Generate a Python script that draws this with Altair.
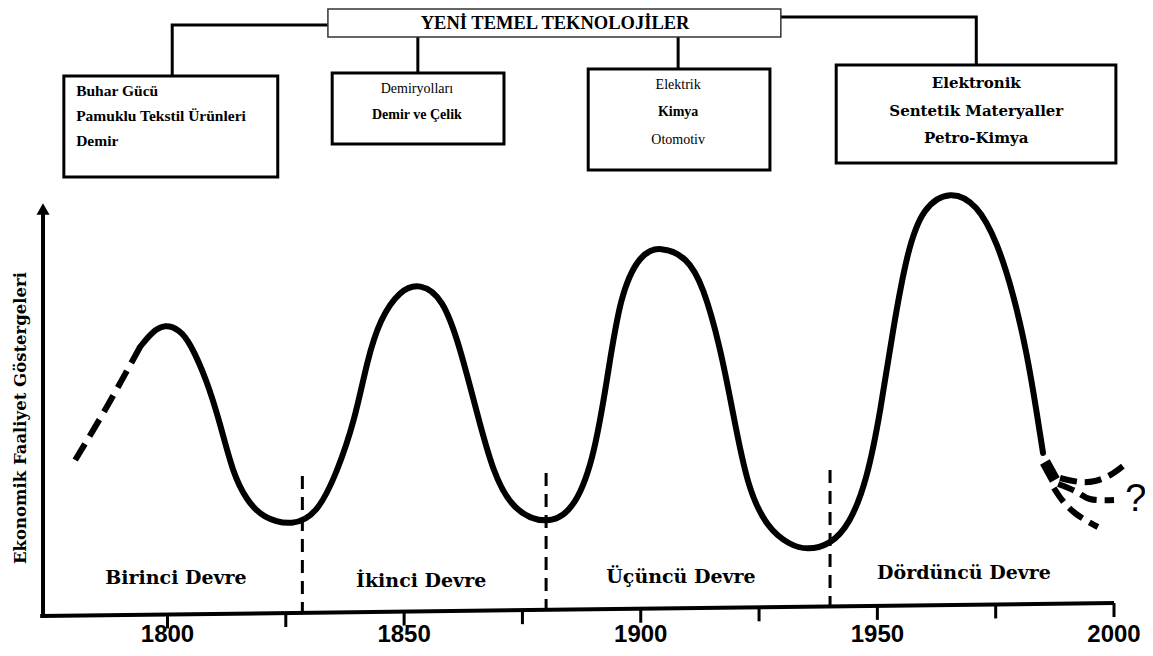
import altair as alt
import pandas as pd

# ---------------- data (years / activity index) ----------------
curve_year = [1794.2, 1796.7, 1799.5, 1802.6, 1804.8, 1808.3, 1811.1, 1813.8, 1816.7, 1820.1,
              1826.5, 1831.6, 1835.8, 1839.6, 1842.2, 1844.9, 1849.1, 1853.4,
              1858.2, 1861.8, 1865.4, 1868.8, 1873.0, 1880.2, 1885.7, 1889.9, 1892.9,
              1895.6, 1899.8, 1904.1, 1909.8, 1913.2, 1916.8, 1919.5, 1922.5, 1926.7, 1931.5,
              1935.1, 1940.0, 1944.2, 1947.8, 1950.6, 1953.3, 1956.3, 1959.6, 1965.4, 1971.1,
              1975.3, 1978.7, 1981.6, 1983.7, 1985.0]
curve_level = [268, 283, 291, 285, 272, 235, 192, 142, 115, 97,
               89, 101, 142, 195, 255, 296, 325, 332,
               317, 268, 202, 142, 104, 90, 104, 152, 235,
               320, 361, 369, 358, 329, 268, 202, 128, 87, 70,
               65, 70, 91, 135, 202, 286, 364, 408, 425, 411,
               373, 322, 262, 202, 162]

lead_year = [1780.5, 1786.8, 1794.2]
lead_level = [155, 205, 268]

wedge_year = [1985.4, 1987.5]
wedge_level = [153, 135]

branch_id = ["up"] * 5 + ["mid"] * 4 + ["low"] * 4
branch_year = [1988.6, 1992.8, 1996.0, 1999.2, 2001.9,
               1988.2, 1991.8, 1994.9, 2000.0,
               1987.3, 1989.2, 1992.0, 1996.6]
branch_level = [137, 133, 134, 140, 149,
                131, 124, 116, 115,
                127, 114, 101, 88]

period_year = [1828.5, 1880.0, 1940.0]
period_top = [139, 142, 145]
period_bottom = [2, 5, 9]

period_label = ["Birinci Devre", "İkinci Devre", "Üçüncü Devre", "Dördüncü Devre"]
period_label_year = [1801.8, 1853.6, 1908.5, 1968.3]
period_label_level = [37, 34, 38, 42]

tick_years = [1800, 1825, 1850, 1875, 1900, 1925, 1950, 1975, 2000]
label_years = [1800, 1850, 1900, 1950, 2000]

axis_x_start, axis_x_end = 1773.1, 2000.0
axis_lvl_start, axis_lvl_end = -1, 12
yaxis_year = 1773.7
yaxis_top = 404

title_text = "YENİ TEMEL TEKNOLOJİLER"
title_year, title_level = 1881.9, 592
main_box = dict(year=1833.9, year2=1929.6, level=606, level2=578)

box_year = [1778.1, 1834.8, 1888.9, 1941.3]
box_year2 = [1823.3, 1871.1, 1927.3, 2000.4]
box_level = [539, 542, 546, 550]
box_level2 = [438, 471, 445, 452]

conn_id = ["c1", "c1", "c1", "c2", "c2", "c3", "c3", "c4", "c4", "c4"]
conn_seq = [0, 1, 2, 0, 1, 0, 1, 0, 1, 2]
conn_year = [1833.9, 1801.0, 1801.0, 1852.9, 1852.9, 1907.9, 1907.9, 1929.6, 1970.9, 1970.9]
conn_level = [590, 590, 539, 578, 542, 578, 546, 598, 598, 550]

b1_text = ["Buhar Gücü", "Pamuklu Tekstil Ürünleri", "Demir"]
b1_year = [1780.7, 1780.7, 1780.7]
b1_level = [524, 499, 474]

b2_text = ["Demiryolları", "Demir ve Çelik"]
b2_bold = [False, True]
b2_year = [1852.7, 1852.7]
b2_level = [526, 500]

b3_text = ["Elektrik", "Kimya", "Otomotiv"]
b3_bold = [False, True, False]
b3_year = [1907.9, 1907.9, 1907.9]
b3_level = [530, 503, 475]

b4_text = ["Elektronik", "Sentetik Materyaller", "Petro-Kimya"]
b4_year = [1970.9, 1970.9, 1970.9]
b4_level = [532, 504, 477]

ytitle_text = "Ekonomik Faaliyet Göstergeleri"
ytitle_year, ytitle_level = 1769.0, 197

q_year, q_level = 2004.6, 115

# ---------------- tables ----------------
curve = pd.DataFrame({"year": curve_year, "level": curve_level})
lead = pd.DataFrame({"year": lead_year, "level": lead_level})
wedge = pd.DataFrame({"year": wedge_year, "level": wedge_level})
branches = pd.DataFrame({"b": branch_id, "year": branch_year, "level": branch_level})
periods = pd.DataFrame({"year": period_year, "level": period_top, "level2": period_bottom})
plabels = pd.DataFrame({"t": period_label, "year": period_label_year, "level": period_label_level})

def axis_level(y):
    return axis_lvl_start + (y - axis_x_start) / (axis_x_end - axis_x_start) * (axis_lvl_end - axis_lvl_start)

ticks = pd.DataFrame({"year": tick_years,
                      "level": [axis_level(t) for t in tick_years],
                      "level2": [axis_level(t) - 14 for t in tick_years]})
tlabels = pd.DataFrame({"year": label_years, "t": [str(v) for v in label_years], "level": [-27] * len(label_years)})
xaxis = pd.DataFrame({"year": [axis_x_start], "year2": [axis_x_end],
                      "level": [axis_lvl_start], "level2": [axis_lvl_end]})
yaxis = pd.DataFrame({"year": [yaxis_year], "level": [axis_lvl_start], "level2": [yaxis_top]})
arrow = pd.DataFrame({"year": [yaxis_year], "level": [yaxis_top + 2]})

mainbox = pd.DataFrame([main_box])
boxes = pd.DataFrame({"year": box_year, "year2": box_year2, "level": box_level, "level2": box_level2})
conns = pd.DataFrame({"c": conn_id, "seq": conn_seq, "year": conn_year, "level": conn_level})
title = pd.DataFrame({"t": [title_text], "year": [title_year], "level": [title_level]})
b1 = pd.DataFrame({"t": b1_text, "year": b1_year, "level": b1_level})
b2 = pd.DataFrame({"t": b2_text, "bold": b2_bold, "year": b2_year, "level": b2_level})
b3 = pd.DataFrame({"t": b3_text, "bold": b3_bold, "year": b3_year, "level": b3_level})
b4 = pd.DataFrame({"t": b4_text, "year": b4_year, "level": b4_level})
ytitle = pd.DataFrame({"t": [ytitle_text], "year": [ytitle_year], "level": [ytitle_level]})
qmark = pd.DataFrame({"t": ["?"], "year": [q_year], "level": [q_level]})

# ---------------- scales ----------------
xs = alt.Scale(domain=[1766.3, 2006.55], nice=False, zero=False)
ys = alt.Scale(domain=[-33, 607], nice=False, zero=False)
X = alt.X("year:Q", scale=xs, axis=None)
Y = alt.Y("level:Q", scale=ys, axis=None)
X2 = alt.X2("year2:Q")
Y2 = alt.Y2("level2:Q")

layers = []

# axes
layers.append(alt.Chart(xaxis).mark_rule(color="black", strokeWidth=4).encode(x=X, x2=X2, y=Y, y2=Y2))
layers.append(alt.Chart(yaxis).mark_rule(color="black", strokeWidth=4).encode(x=X, y=Y, y2=Y2))
layers.append(alt.Chart(arrow).mark_point(shape="triangle-up", filled=True, size=170,
                                           color="black", opacity=1).encode(x=X, y=Y))
layers.append(alt.Chart(ticks).mark_rule(color="black", strokeWidth=3).encode(x=X, y=Y, y2=Y2))
layers.append(alt.Chart(tlabels).mark_text(font="Liberation Sans", fontWeight="bold", fontSize=24,
                                            baseline="alphabetic", align="center", color="black")
              .encode(x=X, y=Y, text="t:N"))

# period dividers and labels
layers.append(alt.Chart(periods).mark_rule(color="black", strokeWidth=3, strokeDash=[13, 8])
              .encode(x=X, y=Y, y2=Y2))
layers.append(alt.Chart(plabels).mark_text(font="DejaVu Serif", fontWeight="bold", fontSize=19,
                                            baseline="middle", align="center", color="black")
              .encode(x=X, y=Y, text="t:N"))

# the long wave curve
layers.append(alt.Chart(lead).mark_line(color="black", strokeWidth=6, strokeDash=[19, 9],
                                         interpolate="catmull-rom").encode(x=X, y=Y))
layers.append(alt.Chart(curve).mark_line(color="black", strokeWidth=6, strokeCap="round",
                                          interpolate="basis").encode(x=X, y=Y))
layers.append(alt.Chart(wedge).mark_line(color="black", strokeWidth=11).encode(x=X, y=Y))
layers.append(alt.Chart(branches).mark_line(color="black", strokeWidth=6, strokeDash=[17, 8],
                                             interpolate="catmull-rom")
              .encode(x=X, y=Y, detail="b:N"))
layers.append(alt.Chart(qmark).mark_text(font="Liberation Sans", fontSize=38, baseline="middle",
                                          align="center", color="black").encode(x=X, y=Y, text="t:N"))

# y title
layers.append(alt.Chart(ytitle).mark_text(font="DejaVu Serif", fontWeight="bold", fontSize=16.5,
                                           angle=270, baseline="middle", align="center", color="black")
              .encode(x=X, y=Y, text="t:N"))

# technology boxes
layers.append(alt.Chart(conns).mark_line(color="black", strokeWidth=3)
              .encode(x=X, y=Y, detail="c:N", order="seq:Q"))
layers.append(alt.Chart(mainbox).mark_rect(fill="white", stroke="#333333", strokeWidth=1.5)
              .encode(x=X, x2=X2, y=Y, y2=Y2))
layers.append(alt.Chart(boxes).mark_rect(fill="white", stroke="black", strokeWidth=3)
              .encode(x=X, x2=X2, y=Y, y2=Y2))
layers.append(alt.Chart(title).mark_text(font="Liberation Serif", fontWeight="bold", fontSize=18.5,
                                          baseline="middle", align="center", color="black")
              .encode(x=X, y=Y, text="t:N"))
layers.append(alt.Chart(b1).mark_text(font="Liberation Serif", fontWeight="bold", fontSize=15.5,
                                       baseline="middle", align="left", color="black")
              .encode(x=X, y=Y, text="t:N"))
for df in (b2, b3):
    layers.append(alt.Chart(df).transform_filter("datum.bold")
                  .mark_text(font="Liberation Serif", fontWeight="bold", fontSize=14,
                             baseline="middle", align="center", color="black")
                  .encode(x=X, y=Y, text="t:N"))
    layers.append(alt.Chart(df).transform_filter("!datum.bold")
                  .mark_text(font="Liberation Serif", fontSize=14,
                             baseline="middle", align="center", color="black")
                  .encode(x=X, y=Y, text="t:N"))
layers.append(alt.Chart(b4).mark_text(font="DejaVu Serif", fontWeight="bold", fontSize=15,
                                       baseline="middle", align="center", color="black")
              .encode(x=X, y=Y, text="t:N"))

chart = alt.layer(*layers).properties(
    width=1137, height=640, padding=0,
    autosize=alt.AutoSizeParams(type="none"),
    background="white",
).configure_view(stroke=None)

chart.save("out.html", embed_options={"renderer": "svg", "actions": False})
